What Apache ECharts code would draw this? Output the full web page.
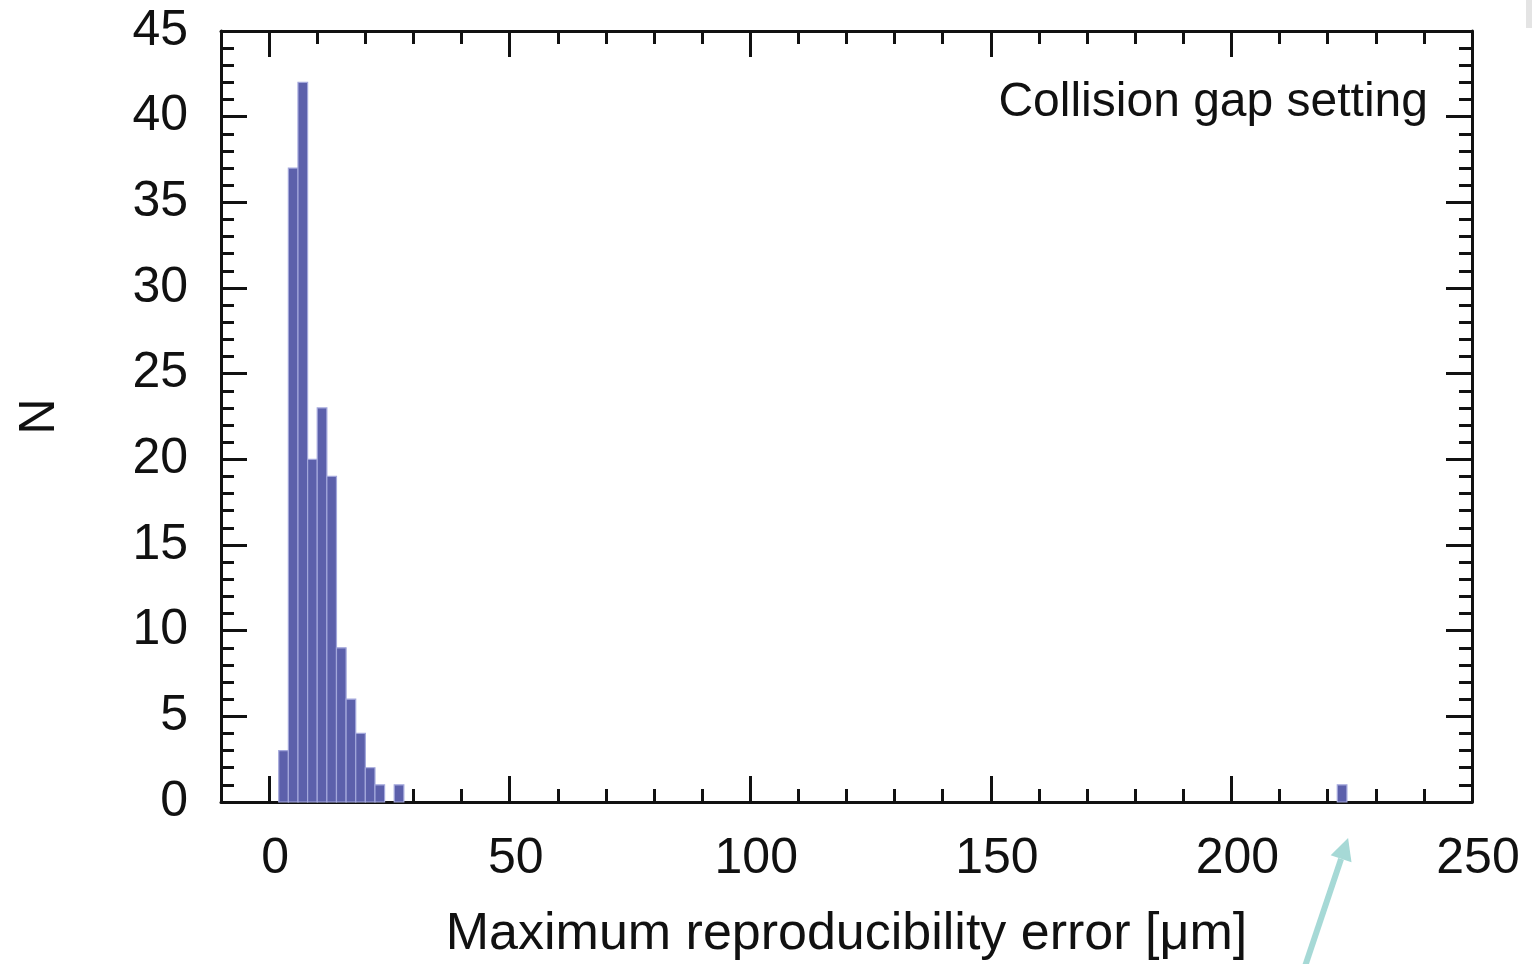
<!DOCTYPE html>
<html>
<head>
<meta charset="utf-8">
<script src="https://cdn.jsdelivr.net/npm/echarts@6/dist/echarts.min.js"></script>
<style>
  html, body { margin: 0; padding: 0; background: #ffffff; }
  #chart { width: 1532px; height: 964px; }
</style>
</head>
<body>
<div id="chart"></div>
<script>
// ---- data (histogram, bin width 2 µm) ----
const binStarts = [2, 4, 6, 8, 10, 12, 14, 16, 18, 20, 22, 26, 222];
const binWidth = 2;
const counts = [3, 37, 42, 20, 23, 19, 9, 6, 4, 2, 1, 1, 1];
const xMajorTicks = [0, 50, 100, 150, 200, 250];
const xMinorTicks = [10, 20, 30, 40, 60, 70, 80, 90, 110, 120, 130, 140, 160, 170, 180, 190, 210, 220, 230, 240];
const xTitle = 'Maximum reproducibility error [\u03bcm]';
const yTitle = 'N';
const annotation = 'Collision gap setting';

const barData = binStarts.map((s, i) => [s, s + binWidth, counts[i]]);

const FONT = '"Liberation Sans", Arial, Helvetica, sans-serif';
const INK = '#111111';

const chart = echarts.init(document.getElementById('chart'), null, { renderer: 'canvas' });

function xAxisDef(pos, ticks, len, withLine, withLabels) {
  return {
    type: 'value', position: pos, min: -10, max: 250,
    axisLine: { show: withLine, onZero: false, lineStyle: { color: INK, width: 3 } },
    axisTick: { show: true, inside: true, length: len, customValues: ticks, lineStyle: { color: INK, width: 3 } },
    axisLabel: withLabels ? {
      show: true, customValues: xMajorTicks, fontSize: 50, color: INK, fontFamily: FONT, margin: 32,
      padding: [0, 0, 0, 12]
    } : { show: false },
    splitLine: { show: false },
    name: withLabels ? xTitle : '',
    nameLocation: 'middle', nameGap: 107,
    nameTextStyle: { fontSize: 52, color: INK, fontFamily: FONT }
  };
}

function yAxisDef(pos, withLabels) {
  return {
    type: 'value', position: pos, min: 0, max: 45, interval: 5,
    axisLine: { show: true, onZero: false, lineStyle: { color: INK, width: 3 } },
    axisTick: { show: true, inside: true, length: 26, lineStyle: { color: INK, width: 3 } },
    minorTick: { show: true, splitNumber: 5, length: 13, lineStyle: { color: INK, width: 3 } },
    axisLabel: withLabels ? { show: true, fontSize: 50, color: INK, fontFamily: FONT, margin: 33 } : { show: false },
    splitLine: { show: false },
    minorSplitLine: { show: false },
    name: withLabels ? yTitle : '',
    nameLocation: 'middle', nameGap: 156, nameRotate: 90,
    nameTextStyle: { fontSize: 50, color: INK, fontFamily: FONT }
  };
}

function annotationGraphics(extra) {
  return [
    {
      type: 'text', x: 1428, y: 103, z: 10,
      style: { text: annotation, fontSize: 48, fill: INK, fontFamily: FONT, align: 'right', verticalAlign: 'middle' }
    },
    {
      type: 'rect', shape: { x: 1526, y: 0, width: 6, height: 28 },
      style: { fill: '#e4e4e4' }
    }
  ].concat(extra || []);
}

const option = {
  backgroundColor: '#ffffff',
  animation: false,
  grid: { left: 221, right: 60, top: 31, bottom: 162, outerBoundsMode: 'none', containLabel: false },
  xAxis: [
    xAxisDef('bottom', xMajorTicks, 26, true, true),
    xAxisDef('bottom', xMinorTicks, 13, false, false),
    xAxisDef('top', xMajorTicks, 26, true, false),
    xAxisDef('top', xMinorTicks, 13, false, false)
  ],
  yAxis: [yAxisDef('left', true), yAxisDef('right', false)],
  graphic: annotationGraphics(),
  series: [{
    type: 'custom',
    xAxisIndex: 0, yAxisIndex: 0,
    data: barData,
    encode: { x: [0, 1], y: 2 },
    renderItem: function (params, api) {
      const p0 = api.coord([api.value(0), api.value(2)]);
      const p1 = api.coord([api.value(1), 0]);
      return {
        type: 'rect',
        shape: { x: p0[0], y: p0[1], width: p1[0] - p0[0], height: p1[1] - p0[1] },
        style: { fill: '#5c60ab', stroke: '#a3a7db', lineWidth: 1.2 }
      };
    },
    z: 1
  }]
};

chart.setOption(option);

// annotation arrow pointing at the outlier bin
const outlier = chart.convertToPixel({ xAxisIndex: 0, yAxisIndex: 0 }, [binStarts[binStarts.length - 1] + binWidth / 2, 0]);
const tip = [outlier[0] + 6, outlier[1] + 36];
const tail = [outlier[0] - 40, 975];
const ang = Math.atan2(tail[1] - tip[1], tail[0] - tip[0]);
const headLen = 22, headW = 11;
const bx = tip[0] + Math.cos(ang) * headLen, by = tip[1] + Math.sin(ang) * headLen;
const nx = -Math.sin(ang) * headW, ny = Math.cos(ang) * headW;
chart.setOption({
  graphic: annotationGraphics([
    {
      type: 'line', shape: { x1: tail[0], y1: tail[1], x2: bx, y2: by },
      style: { stroke: '#a6d9d6', lineWidth: 6 }
    },
    {
      type: 'polygon',
      shape: { points: [tip, [bx + nx, by + ny], [bx - nx, by - ny]] },
      style: { fill: '#a6d9d6' }
    }
  ])
}, { replaceMerge: ['graphic'] });
</script>
</body>
</html>
